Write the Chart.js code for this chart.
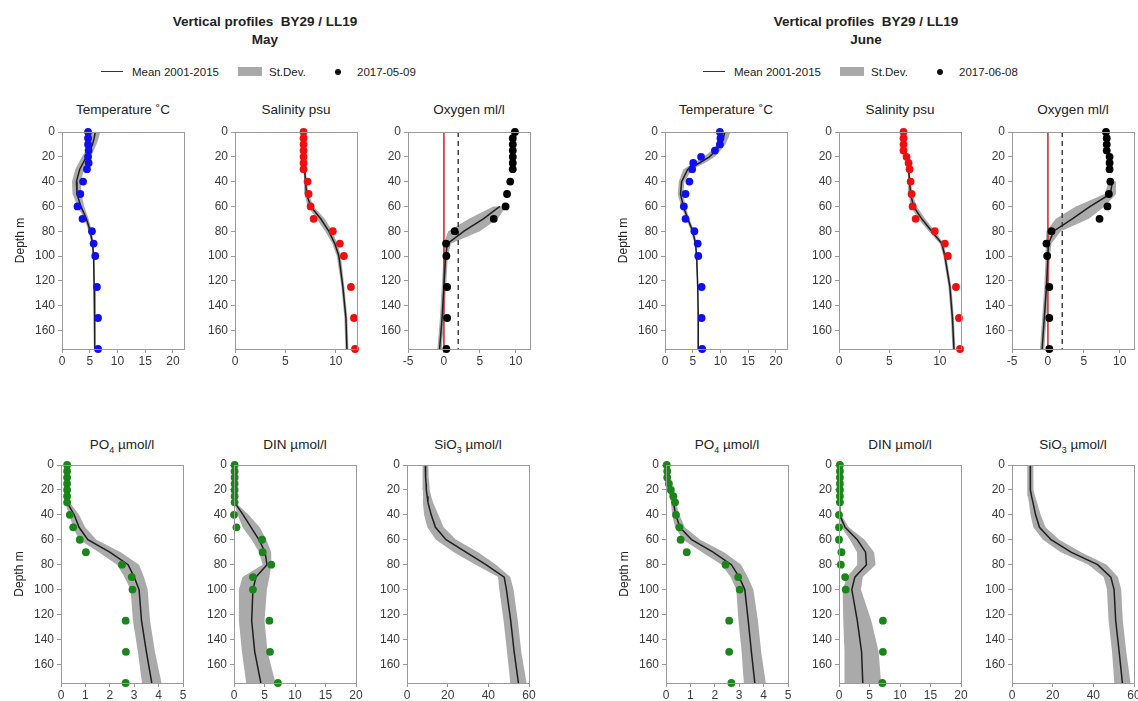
<!DOCTYPE html>
<html>
<head>
<meta charset="utf-8">
<script src="https://cdn.jsdelivr.net/npm/chart.js@4/dist/chart.umd.min.js"></script>
<style>
  html, body { margin: 0; padding: 0; background: #fff; overflow: hidden; }
  #page { position: relative; width: 1138px; height: 701px; font-family: "Liberation Sans", Arial, sans-serif; color: #222; }
  .head { position: absolute; width: 300px; text-align: center; font-weight: bold; font-size: 13.5px; line-height: 17px; }
  .ptitle { position: absolute; width: 160px; text-align: center; font-size: 13.5px; line-height: 16px; }
  .lg { position: absolute; font-size: 11.5px; line-height: 14px; color: #222; }
  canvas { position: absolute; }
</style>
</head>
<body>
<div id="page"></div>
<script>
// depths of the samples (m)
const depth = [0, 5, 10, 15, 20, 25, 30, 40, 50, 60, 70, 80, 90, 100, 125, 150, 175];

// ---- May ----
const mayTempObs  = [4.7, 4.7, 4.7, 4.8, 4.7, 4.8, 4.5, 3.8, 3.3, 2.8, 3.7, 5.4, 5.7, 6.0, 6.3, 6.5, 6.5];
const mayTempMean = [6.0, 5.8, 5.5, 5.0, 4.4, 3.8, 3.2, 2.6, 2.7, 3.4, 4.4, 5.1, 5.5, 5.7, 5.8, 5.9, 5.9];
const mayTempSd   = [0.9, 0.8, 0.7, 0.7, 0.8, 0.8, 0.8, 0.8, 0.8, 0.6, 0.4, 0.3, 0.2, 0.15, 0.1, 0.1, 0.1];

const maySalObs  = [6.8, 6.8, 6.8, 6.8, 6.8, 6.8, 6.8, 7.2, 7.3, 7.5, 7.8, 9.7, 10.4, 10.8, 11.5, 11.8, 11.9];
const maySalMean = [6.9, 6.9, 6.9, 6.9, 6.9, 6.9, 6.9, 7.0, 7.1, 7.5, 8.5, 9.3, 9.9, 10.3, 10.7, 11.0, 11.1];
const maySalSd   = [0.1, 0.1, 0.1, 0.1, 0.1, 0.1, 0.1, 0.15, 0.2, 0.3, 0.4, 0.35, 0.25, 0.2, 0.15, 0.15, 0.15];

const mayOxyObs  = [9.9, 9.6, 9.6, 9.6, 9.6, 9.6, 9.6, 9.25, 8.8, 8.6, 6.95, 1.5, 0.3, 0.35, 0.45, 0.45, 0.35];
const mayOxyMean = [null, null, null, null, null, null, null, null, null, 7.8, 5.5, 2.8, 0.5, 0.25, 0.0, -0.25, -0.6];
const mayOxySd   = [null, null, null, null, null, null, null, null, null, 0.9, 2.0, 2.2, 0.5, 0.3, 0.3, 0.3, 0.3];

const mayPo4Obs  = [0.25, 0.25, 0.25, 0.25, 0.25, 0.25, 0.25, 0.36, 0.5, 0.77, 1.02, 2.5, 2.9, 2.93, 2.65, 2.66, 2.65];
const mayPo4Mean = [0.25, 0.25, 0.25, 0.25, 0.25, 0.25, 0.25, 0.54, 0.74, 1.1, 2.0, 2.75, 3.0, 3.2, 3.3, 3.5, 3.72];
const mayPo4Sd   = [0.1, 0.1, 0.1, 0.1, 0.1, 0.1, 0.1, 0.2, 0.25, 0.35, 0.45, 0.45, 0.4, 0.35, 0.35, 0.35, 0.4];

const mayDinObs  = [0.1, 0.1, 0.1, 0.1, 0.1, 0.1, 0.1, 0.0, 0.4, 4.6, 4.7, 6.1, 3.1, 3.1, 5.8, 5.9, 7.2];
const mayDinMean = [0.1, 0.1, 0.1, 0.1, 0.1, 0.1, 0.1, 1.5, 2.8, 4.1, 5.1, 5.4, 3.6, 3.1, 2.9, 3.4, 4.4];
const mayDinSd   = [0.1, 0.1, 0.1, 0.1, 0.1, 0.1, 0.1, 0.9, 1.4, 1.2, 1.0, 0.7, 2.2, 2.3, 2.1, 2.1, 2.4];

const maySioMean = [9.0, 9.1, 9.2, 9.4, 9.5, 9.9, 10.3, 11.9, 14.0, 19.2, 29.0, 38.8, 47.8, 48.9, 51.0, 52.7, 54.8];
const maySioSd   = [1.5, 1.5, 1.5, 1.6, 1.7, 2.0, 2.5, 3.5, 4.0, 5.0, 6.0, 5.0, 3.0, 3.5, 3.5, 3.5, 4.0];

// ---- June ----
const junTempObs  = [9.9, 10.0, 9.9, 9.0, 6.5, 5.1, 4.9, 4.4, 3.7, 3.4, 3.7, 5.3, 5.9, 6.0, 6.6, 6.6, 6.7];
const junTempMean = [10.8, 10.5, 10.1, 9.2, 8.0, 6.2, 4.1, 3.0, 2.8, 3.3, 4.1, 5.0, 5.5, 5.7, 5.9, 6.0, 6.0];
const junTempSd   = [1.0, 0.9, 0.8, 0.8, 1.0, 1.0, 0.8, 0.5, 0.5, 0.4, 0.3, 0.3, 0.2, 0.15, 0.1, 0.1, 0.1];

const junSalObs  = [6.4, 6.4, 6.4, 6.4, 6.7, 6.9, 7.0, 7.1, 7.2, 7.3, 7.6, 9.5, 10.5, 10.8, 11.6, 11.9, 12.0];
const junSalMean = [6.5, 6.5, 6.5, 6.6, 6.7, 6.8, 6.9, 7.0, 7.1, 7.4, 8.2, 9.2, 10.2, 10.5, 11.0, 11.25, 11.4];
const junSalSd   = [0.1, 0.1, 0.1, 0.1, 0.1, 0.1, 0.1, 0.15, 0.2, 0.3, 0.35, 0.3, 0.2, 0.15, 0.15, 0.15, 0.15];

const junOxyObs  = [8.1, 8.2, 8.2, 8.2, 8.6, 8.6, 8.6, 8.7, 8.5, 8.3, 7.2, 0.5, -0.2, -0.1, 0.2, 0.2, 0.2];
const junOxyMean = [null, null, null, null, null, null, null, 9.0, 8.7, 5.9, 3.4, 0.8, 0.1, 0.0, -0.2, -0.5, -0.8];
const junOxySd   = [null, null, null, null, null, null, null, 0.5, 0.8, 2.0, 2.3, 1.0, 0.4, 0.3, 0.3, 0.3, 0.3];

const junPo4Obs  = [0.03, 0.05, 0.05, 0.12, 0.2, 0.3, 0.37, 0.41, 0.55, 0.6, 0.85, 2.44, 2.96, 3.02, 2.59, 2.59, 2.68];
const junPo4Mean = [0.05, 0.07, 0.09, 0.12, 0.17, 0.25, 0.3, 0.4, 0.57, 1.05, 1.93, 2.68, 3.0, 3.23, 3.37, 3.5, 3.64];
const junPo4Sd   = [0.05, 0.05, 0.05, 0.06, 0.08, 0.1, 0.1, 0.15, 0.2, 0.35, 0.45, 0.4, 0.35, 0.35, 0.4, 0.4, 0.45];

const junDinObs  = [0.15, 0.15, 0.15, 0.15, 0.15, 0.15, 0.15, 0.0, 0.0, 0.0, 0.4, 0.3, 1.0, 1.1, 7.2, 7.2, 7.1];
const junDinMean = [0.1, 0.1, 0.1, 0.1, 0.1, 0.1, 0.1, 0.15, 1.0, 3.0, 4.35, 4.5, 2.6, 2.1, 3.0, 3.7, 3.9];
const junDinSd   = [0.05, 0.05, 0.05, 0.05, 0.05, 0.05, 0.05, 0.2, 0.6, 1.2, 1.4, 1.5, 1.3, 1.5, 2.3, 2.8, 3.0];

const junSioMean = [9.0, 9.0, 9.0, 9.0, 9.1, 9.6, 10.3, 11.6, 13.5, 19.2, 29.0, 42.1, 48.6, 50.2, 51.0, 52.7, 54.3];
const junSioSd   = [1.5, 1.5, 1.5, 1.5, 1.6, 1.8, 2.0, 2.5, 3.0, 4.0, 5.0, 4.5, 3.5, 3.5, 3.5, 3.5, 4.0];

// oxygen reference lines (0 and 2 ml/l)
const refDepth = [0, 175];
const refZero = [0, 0];
const refHypoxia = [2, 2];

const depthTicks = { min: 0, max: 175, step: 20 };

const page = document.getElementById('page');

function addDiv(cls, text, css) {
  const d = document.createElement('div');
  d.className = cls;
  d.textContent = text;
  Object.assign(d.style, css);
  page.appendChild(d);
  return d;
}

// headers and legends
function header(cx, month, date, lx) {
  addDiv('head', 'Vertical profiles\u00a0\u00a0BY29 / LL19', { left: (cx - 150) + 'px', top: '13px' });
  addDiv('head', month, { left: (cx - 150) + 'px', top: '31px' });
  addDiv('lg', '', { left: lx + 'px', top: '71px', width: '22px', height: '0', borderTop: '1.5px solid #333' });
  addDiv('lg', 'Mean 2001-2015', { left: (lx + 31) + 'px', top: '65px' });
  addDiv('lg', '', { left: (lx + 137) + 'px', top: '67px', width: '24px', height: '9px', background: '#a9a9a9' });
  addDiv('lg', 'St.Dev.', { left: (lx + 168) + 'px', top: '65px' });
  addDiv('lg', '', { left: (lx + 234) + 'px', top: '69px', width: '6px', height: '6px', borderRadius: '3px', background: '#111' });
  addDiv('lg', date, { left: (lx + 256) + 'px', top: '65px' });
}
header(265, 'May', '2017-05-09', 101);
header(866, 'June', '2017-06-08', 703);

const PADL = 55, PADR = 14, PADT = 12, PADB = 26, PW = 122;

const boxPlugin = {
  id: 'box',
  afterDatasetsDraw(chart) {
    const a = chart.chartArea, ctx = chart.ctx;
    ctx.save();
    ctx.strokeStyle = '#9a9a9a';
    ctx.lineWidth = 1;
    ctx.strokeRect(Math.round(a.left) + 0.5, Math.round(a.top) + 0.5, Math.round(a.right - a.left), Math.round(a.bottom - a.top));
    ctx.restore();
  }
};

function pts(xs) {
  const out = [];
  xs.forEach((v, i) => { if (v !== null) out.push({ x: v, y: depth[i] }); });
  return out;
}
function band(mean, sd) {
  const up = [], lo = [];
  mean.forEach((m, i) => {
    if (m === null) return;
    up.push({ x: m + sd[i], y: depth[i] });
    lo.unshift({ x: m - sd[i], y: depth[i] });
  });
  return up.concat(lo);
}

function panel(p) {
  const ph = p.row === 0 ? 217 : 218;
  const top = p.row === 0 ? 132 : 465;
  addDiv('ptitle', '', { left: (p.left + PW / 2 - 80) + 'px', top: (top - (p.row === 0 ? 30 : 28)) + 'px' }).innerHTML = p.title;

  const c = document.createElement('canvas');
  c.width = PADL + PW + PADR;
  c.height = PADT + ph + PADB;
  c.style.left = (p.left - PADL) + 'px';
  c.style.top = (top - PADT) + 'px';
  page.appendChild(c);

  const datasets = [];
  if (p.obs) {
    datasets.push({ data: pts(p.obs), pointRadius: 3.9, pointBackgroundColor: p.color, pointBorderWidth: 0, showLine: false, clip: false });
  }
  datasets.push({ data: pts(p.mean), showLine: true, borderColor: '#1e1e1e', borderWidth: 1.5, pointRadius: 0 });
  if (p.refs) {
    datasets.push({ data: refDepth.map((d, i) => ({ x: refZero[i], y: d })), showLine: true, borderColor: '#d23c3c', borderWidth: 1, pointRadius: 0 });
    datasets.push({ data: refDepth.map((d, i) => ({ x: refHypoxia[i], y: d })), showLine: true, borderColor: '#444', borderWidth: 1.5, borderDash: [5, 4], pointRadius: 0 });
  }
  datasets.push({ data: band(p.mean, p.sd), showLine: true, fill: 'shape', backgroundColor: '#aaaaaa', borderWidth: 0, pointRadius: 0 });

  const tickFont = { family: '"Liberation Sans", Arial, sans-serif', size: 12 };
  new Chart(c, {
    type: 'scatter',
    data: { datasets },
    plugins: [boxPlugin],
    options: {
      responsive: false,
      animation: false,
      events: [],
      devicePixelRatio: 1,
      layout: { padding: { top: PADT, right: PADR, left: 0, bottom: 0 } },
      plugins: { legend: { display: false }, tooltip: { enabled: false } },
      scales: {
        x: {
          type: 'linear', min: p.min, max: p.max,
          ticks: { stepSize: p.step, includeBounds: false, color: '#3a3a3a', font: tickFont, maxRotation: 0, padding: 1 },
          grid: { drawOnChartArea: false, color: '#9a9a9a', tickLength: 4 },
          border: { color: '#9a9a9a' },
          afterFit: s => { s.height = PADB; }
        },
        y: {
          type: 'linear', reverse: true, min: depthTicks.min, max: depthTicks.max,
          ticks: { stepSize: depthTicks.step, includeBounds: false, color: '#3a3a3a', font: tickFont, padding: 3 },
          grid: { drawOnChartArea: false, color: '#9a9a9a', tickLength: 4 },
          border: { color: '#9a9a9a' },
          title: { display: !!p.depthTitle, text: 'Depth m', color: '#222', font: { family: '"Liberation Sans", Arial, sans-serif', size: 12 }, padding: { top: 6, bottom: 0 } },
          afterFit: s => { s.width = PADL; }
        }
      }
    }
  });
}

const tempTitle = 'Temperature \u02DAC';
const panels = [
  { row: 0, left: 62,  title: tempTitle, min: 0, max: 22, step: 5, obs: mayTempObs, mean: mayTempMean, sd: mayTempSd, color: '#1010ee', depthTitle: true },
  { row: 0, left: 235, title: 'Salinity psu', min: 0, max: 12.1, step: 5, obs: maySalObs, mean: maySalMean, sd: maySalSd, color: '#ee1010' },
  { row: 0, left: 408, title: 'Oxygen ml/l', min: -5, max: 12, step: 5, obs: mayOxyObs, mean: mayOxyMean, sd: mayOxySd, color: '#000', refs: true },
  { row: 1, left: 61,  title: 'PO<sub style="font-size:9px">4</sub> µmol/l', min: 0, max: 5, step: 1, obs: mayPo4Obs, mean: mayPo4Mean, sd: mayPo4Sd, color: '#1a861a', depthTitle: true },
  { row: 1, left: 234, title: 'DIN µmol/l', min: 0, max: 20, step: 5, obs: mayDinObs, mean: mayDinMean, sd: mayDinSd, color: '#1a861a' },
  { row: 1, left: 407, title: 'SiO<sub style="font-size:9px">3</sub> µmol/l', min: 0, max: 60, step: 20, mean: maySioMean, sd: maySioSd },
  { row: 0, left: 665, title: tempTitle, min: 0, max: 22, step: 5, obs: junTempObs, mean: junTempMean, sd: junTempSd, color: '#1010ee', depthTitle: true },
  { row: 0, left: 839, title: 'Salinity psu', min: 0, max: 12.1, step: 5, obs: junSalObs, mean: junSalMean, sd: junSalSd, color: '#ee1010' },
  { row: 0, left: 1012, title: 'Oxygen ml/l', min: -5, max: 12, step: 5, obs: junOxyObs, mean: junOxyMean, sd: junOxySd, color: '#000', refs: true },
  { row: 1, left: 666, title: 'PO<sub style="font-size:9px">4</sub> µmol/l', min: 0, max: 5, step: 1, obs: junPo4Obs, mean: junPo4Mean, sd: junPo4Sd, color: '#1a861a', depthTitle: true },
  { row: 1, left: 839, title: 'DIN µmol/l', min: 0, max: 20, step: 5, obs: junDinObs, mean: junDinMean, sd: junDinSd, color: '#1a861a' },
  { row: 1, left: 1012, title: 'SiO<sub style="font-size:9px">3</sub> µmol/l', min: 0, max: 60, step: 20, mean: junSioMean, sd: junSioSd }
];
panels.forEach(panel);
</script>
</body>
</html>
